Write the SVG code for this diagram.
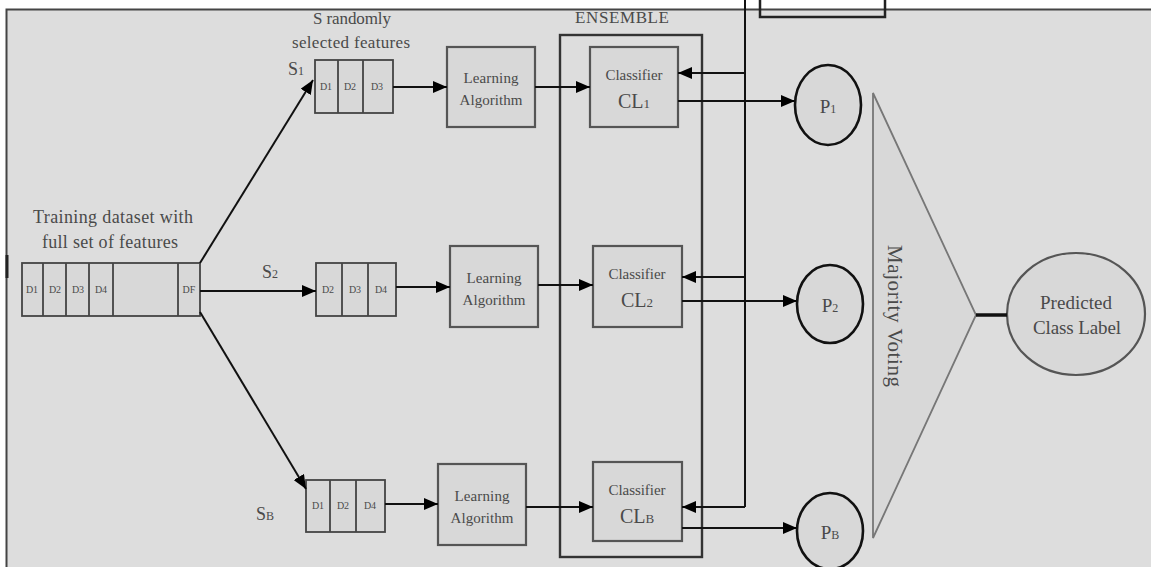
<svg xmlns="http://www.w3.org/2000/svg" width="1151" height="567" viewBox="0 0 1151 567">
  <style>
    .t { font-family: "Liberation Serif", "Times New Roman", serif; fill: #4a4a4a; text-anchor: middle; }
    .d { font-family: "Liberation Serif", "Times New Roman", serif; fill: #4a4a4a; text-anchor: middle; font-size: 10px; }
    .box { fill: #d8d8d8; stroke: #555; stroke-width: 2.2; }
    .cell { fill: #d8d8d8; stroke: #444; stroke-width: 1.8; }
    .div { stroke: #444; stroke-width: 1.8; }
    .ln { stroke: #111; stroke-width: 2; fill: none; }
    .circ { fill: #d8d8d8; stroke: #111; stroke-width: 2.6; }
  </style>
  <defs>
    <marker id="ah" viewBox="0 0 14 12" refX="14" refY="6" markerWidth="14" markerHeight="12" markerUnits="userSpaceOnUse" orient="auto">
      <path d="M0,0 L14,6 L0,12 z" fill="#000"/>
    </marker>
  </defs>

  <!-- canvas -->
  <rect x="0" y="0" width="1151" height="567" fill="#fff"/>
  <rect x="6" y="9" width="1146" height="560" fill="#dddddd"/>
  <path d="M6.5,567 V9.5 H1151" fill="none" stroke="#444" stroke-width="2"/>
  <path d="M7,255 V278" stroke="#222" stroke-width="3"/>

  <!-- top box (partly cut) -->
  <rect x="760" y="-4" width="125" height="21" fill="none" stroke="#222" stroke-width="2.5"/>

  <!-- captions -->
  <text class="t" x="352" y="24" font-size="17" textLength="78">S randomly</text>
  <text class="t" x="351" y="48" font-size="17" textLength="118">selected features</text>
  <text class="t" x="622" y="23" font-size="17" textLength="94">ENSEMBLE</text>
  <text class="t" x="113" y="223" font-size="18" textLength="160">Training dataset with</text>
  <text class="t" x="110" y="248" font-size="18" textLength="136">full set of features</text>
  <text class="t" x="296" y="75" font-size="18" text-anchor="start">S<tspan font-size="12">1</tspan></text>
  <text class="t" x="270" y="278" font-size="18" text-anchor="start">S<tspan font-size="12">2</tspan></text>
  <text class="t" x="265" y="520" font-size="18" text-anchor="start">S<tspan font-size="12">B</tspan></text>

  <!-- ensemble frame -->
  <rect id="ensemble" x="560" y="35" width="142" height="522" fill="none" stroke="#333" stroke-width="2.4"/>

  <!-- full training set -->
  <g id="training">
    <rect class="cell" x="22" y="263" width="178" height="53"/>
    <path class="div" d="M43,263 V316 M66,263 V316 M89,263 V316 M113,263 V316 M178,263 V316"/>
    <text class="d" x="32" y="293">D1</text>
    <text class="d" x="55" y="293">D2</text>
    <text class="d" x="78" y="293">D3</text>
    <text class="d" x="101" y="293">D4</text>
    <text class="d" x="189" y="293">DF</text>
  </g>

  <!-- feature subsets -->
  <g id="subset1">
    <rect class="cell" x="315" y="60" width="78" height="53"/>
    <path class="div" d="M338,60 V113 M363,60 V113"/>
    <text class="d" x="326" y="90">D1</text>
    <text class="d" x="350" y="90">D2</text>
    <text class="d" x="377" y="90">D3</text>
  </g>
  <g id="subset2">
    <rect class="cell" x="316" y="263" width="80" height="53"/>
    <path class="div" d="M342,263 V316 M368,263 V316"/>
    <text class="d" x="328" y="293">D2</text>
    <text class="d" x="355" y="293">D3</text>
    <text class="d" x="381" y="293">D4</text>
  </g>
  <g id="subsetB">
    <rect class="cell" x="306" y="480" width="79" height="52"/>
    <path class="div" d="M330,480 V532 M356,480 V532"/>
    <text class="d" x="318" y="509">D1</text>
    <text class="d" x="343" y="509">D2</text>
    <text class="d" x="370" y="509">D4</text>
  </g>

  <!-- learners -->
  <g id="learn1">
    <rect class="box" x="447" y="47" width="88" height="80"/>
    <text class="t" x="491" y="83" font-size="15" textLength="55">Learning</text>
    <text class="t" x="491" y="105" font-size="15" textLength="63">Algorithm</text>
  </g>
  <g id="learn2">
    <rect class="box" x="450" y="246" width="88" height="81"/>
    <text class="t" x="494" y="283" font-size="15" textLength="55">Learning</text>
    <text class="t" x="494" y="305" font-size="15" textLength="63">Algorithm</text>
  </g>
  <g id="learnB">
    <rect class="box" x="438" y="464" width="88" height="81"/>
    <text class="t" x="482" y="501" font-size="15" textLength="55">Learning</text>
    <text class="t" x="482" y="523" font-size="15" textLength="63">Algorithm</text>
  </g>

  <!-- classifiers -->
  <g id="clf1">
    <rect class="box" x="590" y="47" width="88" height="80"/>
    <text class="t" x="634" y="80" font-size="15" textLength="57">Classifier</text>
    <text class="t" x="634" y="108" font-size="20">CL<tspan font-size="13">1</tspan></text>
  </g>
  <g id="clf2">
    <rect class="box" x="593" y="246" width="89" height="81"/>
    <text class="t" x="637" y="279" font-size="15" textLength="57">Classifier</text>
    <text class="t" x="637" y="307" font-size="20">CL<tspan font-size="13">2</tspan></text>
  </g>
  <g id="clfB">
    <rect class="box" x="593" y="462" width="89" height="79"/>
    <text class="t" x="637" y="495" font-size="15" textLength="57">Classifier</text>
    <text class="t" x="637" y="523" font-size="20">CL<tspan font-size="13">B</tspan></text>
  </g>

  <!-- predictions -->
  <g id="p1">
    <ellipse class="circ" cx="828" cy="105" rx="33" ry="40"/>
    <text class="t" x="828" y="113" font-size="19">P<tspan font-size="12">1</tspan></text>
  </g>
  <g id="p2">
    <ellipse class="circ" cx="830" cy="304" rx="33" ry="39"/>
    <text class="t" x="830" y="312" font-size="19">P<tspan font-size="12">2</tspan></text>
  </g>
  <g id="pB">
    <ellipse class="circ" cx="830" cy="531" rx="33" ry="38"/>
    <text class="t" x="830" y="539" font-size="19">P<tspan font-size="12">B</tspan></text>
  </g>

  <!-- voting -->
  <g id="vote">
    <path d="M873,93 L976,315 L873,538 Z" fill="#d8d8d8" stroke="#777" stroke-width="1.8"/>
    <text class="t" font-size="21" textLength="142" transform="translate(888,316) rotate(90)">Majority Voting</text>
  </g>
  <g id="label">
    <ellipse cx="1076" cy="314" rx="69" ry="61" fill="#d8d8d8" stroke="#555" stroke-width="2.2"/>
    <text class="t" x="1076" y="309" font-size="19" textLength="72">Predicted</text>
    <text class="t" x="1077" y="334" font-size="19" textLength="88">Class Label</text>
  </g>

  <!-- connectors -->
  <g id="connectors">
    <path class="ln" d="M200,263 L313,80" marker-end="url(#ah)"/>
    <path class="ln" d="M200,291 H316" marker-end="url(#ah)"/>
    <path class="ln" d="M200,312 L306,489" marker-end="url(#ah)"/>

    <path class="ln" d="M393,87 H447" marker-end="url(#ah)"/>
    <path class="ln" d="M396,287 H450" marker-end="url(#ah)"/>
    <path class="ln" d="M385,504 H438" marker-end="url(#ah)"/>

    <path class="ln" d="M535,87 H590" marker-end="url(#ah)"/>
    <path class="ln" d="M538,285 H593" marker-end="url(#ah)"/>
    <path class="ln" d="M526,507 H593" marker-end="url(#ah)"/>

    <!-- feedback bus -->
    <path class="ln" d="M745,0 V507"/>
    <path class="ln" d="M745,73 H678" marker-end="url(#ah)"/>
    <path class="ln" d="M745,277 H682" marker-end="url(#ah)"/>
    <path class="ln" d="M745,507 H682" marker-end="url(#ah)"/>

    <path class="ln" d="M678,101 H795" marker-end="url(#ah)"/>
    <path class="ln" d="M682,301 H797" marker-end="url(#ah)"/>
    <path class="ln" d="M682,528 H797" marker-end="url(#ah)"/>

    <path d="M976,315 H1007" stroke="#111" stroke-width="3.5"/>
  </g>
</svg>
